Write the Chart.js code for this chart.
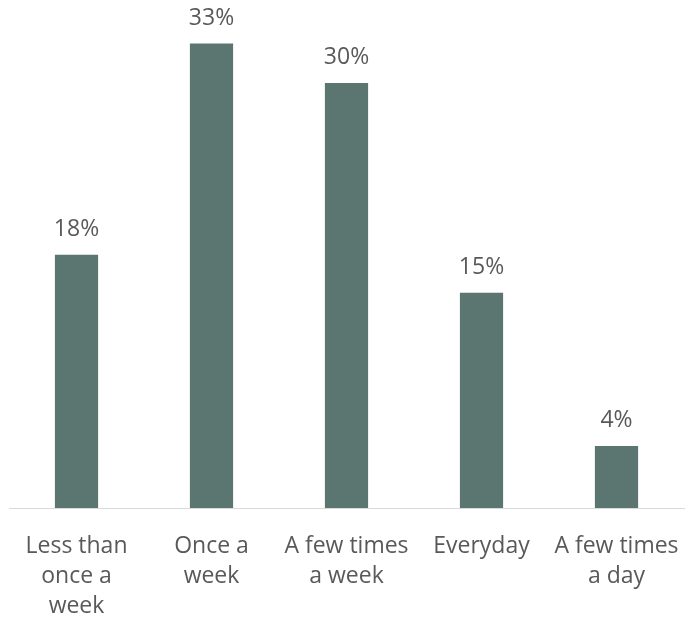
<!DOCTYPE html>
<html>
<head>
<meta charset="utf-8">
<script src="https://cdn.jsdelivr.net/npm/chart.js@4/dist/chart.umd.min.js"></script>
<style>
  body { margin: 0; background: #fff; }
  #wrap { width: 688px; height: 624px; }
</style>
</head>
<body>
<div id="wrap"><canvas id="freqChart"></canvas></div>
<script>
// Frequency categories and shares (%)
const categories = [
    ['Less than', 'once a', 'week'],
    ['Once a', 'week'],
    ['A few times', 'a week'],
    ['Everyday'],
    ['A few times', 'a day']
];
const shares = [18, 33, 30.2, 15.3, 4.4];

const textGray = '#595959';
const barColor = '#5b7670';
const fontFamily = '"Open Sans", Lato, sans-serif';

// draws the % value above each bar
const valueLabels = {
    id: 'valueLabels',
    afterDatasetsDraw(chart) {
        const ctx = chart.ctx;
        const meta = chart.getDatasetMeta(0);
        ctx.save();
        ctx.font = '23px ' + fontFamily;
        ctx.fillStyle = textGray;
        ctx.textAlign = 'center';
        ctx.textBaseline = 'alphabetic';
        meta.data.forEach(function (bar, i) {
            ctx.fillText(Math.round(shares[i]) + '%', bar.x, bar.y - 19);
        });
        ctx.restore();
    }
};

const freqCtx = document.getElementById('freqChart').getContext('2d');
const freqChart = new Chart(freqCtx, {
    type: 'bar',
    data: {
        labels: categories,
        datasets: [{
            data: shares,
            backgroundColor: barColor,
            barPercentage: 0.8,
            categoryPercentage: 0.4
        }]
    },
    options: {
        responsive: true,
        maintainAspectRatio: false,
        animation: false,
        layout: {
            padding: { left: 9, right: 4, top: 0, bottom: 0 }
        },
        plugins: {
            legend: { display: false },
            tooltip: { enabled: false }
        },
        scales: {
            x: {
                grid: { display: false, drawTicks: false },
                border: { display: true, color: '#d9d9d9', width: 1 },
                ticks: {
                    color: textGray,
                    padding: 23,
                    maxRotation: 0,
                    autoSkip: false,
                    font: { family: fontFamily, size: 23, lineHeight: 30 / 23 }
                },
                afterFit: function (scale) {
                    scale.height = 116;
                    // labels fit inside their slots, no extra side padding
                    scale.paddingLeft = 0;
                    scale.paddingRight = 0;
                }
            },
            y: {
                display: false,
                min: 0,
                max: 36.1
            }
        }
    },
    plugins: [valueLabels]
});
</script>
</body>
</html>
